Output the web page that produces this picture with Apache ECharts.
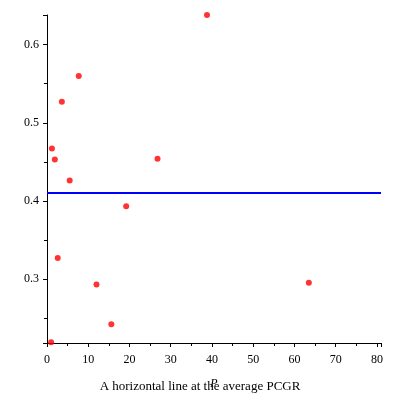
<!DOCTYPE html><html><head><script src="https://cdn.jsdelivr.net/npm/echarts@6/dist/echarts.min.js"></script></head><body style="margin:0"><div id="c" style="width:400px;height:400px"></div><script>
const xs=[1.0,1.2,1.9,2.6,3.6,5.5,7.7,12.0,15.6,19.2,26.8,38.8,63.5];
const ys=[0.219,0.467,0.453,0.327,0.527,0.426,0.560,0.293,0.242,0.393,0.454,0.638,0.295];
const avg=0.410;
const xTickLabels=['0','10','20','30','40','50','60','70','80'];
const f={fontFamily:'Liberation Serif',fontSize:12,color:'#000'};
const ch=echarts.init(document.getElementById('c'));
ch.setOption({animation:false,
grid:{left:47,right:19,top:15,bottom:57},
title:{text:'A horizontal line at the average PCGR',left:'center',bottom:-2,textStyle:{...f,fontWeight:'normal',fontSize:13}},
xAxis:{type:'value',min:0,max:81,interval:10,name:'P',nameLocation:'middle',nameGap:22,nameTextStyle:{...f,fontStyle:'italic'},
 axisLine:{onZero:false,lineStyle:{color:'#000'}},axisTick:{length:4},minorTick:{show:true,splitNumber:2,length:3,lineStyle:{color:'#000'}},
 splitLine:{show:false},axisLabel:{...f,showMaxLabel:false,formatter:v=>xTickLabels[v/10]??''}},
yAxis:{type:'value',min:0.218,max:0.638,splitNumber:4,
 axisLine:{show:true,lineStyle:{color:'#000'}},axisTick:{show:true,length:4,lineStyle:{color:'#000'}},minorTick:{show:true,splitNumber:2,length:3,lineStyle:{color:'#000'}},splitLine:{show:false},
 axisLabel:{...f,showMinLabel:false,showMaxLabel:false,formatter:v=>{const r=Math.round(v*100);return r%10===0?(r/100).toFixed(1):'';}}},
series:[{type:'scatter',data:xs.map((x,i)=>[x,ys[i]]),symbolSize:6,itemStyle:{color:'#f00'}},
{type:'line',data:[[0,avg],[81,avg]],symbol:'none',lineStyle:{color:'#0000ff',width:2}}]});
</script></body></html>
